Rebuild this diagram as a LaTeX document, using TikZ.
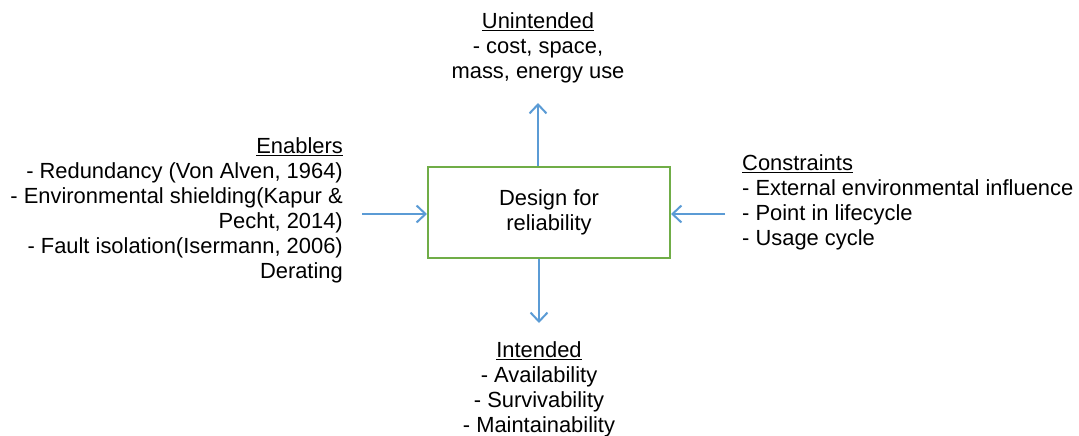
\documentclass[tikz,border=0pt]{standalone}
\usepackage{fontspec}
\setmainfont{Liberation Sans}
\usetikzlibrary{arrows.meta,positioning}
\definecolor{linkblue}{HTML}{5B9BD5}
\definecolor{boxgreen}{HTML}{70AD47}
\tikzset{
    >={Straight Barb[length=9pt,width=17pt]},
    core/.style={rectangle, draw=boxgreen, line width=2pt, align=center, minimum width=242pt, minimum height=91pt},
    textblock/.style={inner sep=0pt},
    link/.style={->, draw=linkblue, line width=2pt}
}

\begin{document}
\begin{tikzpicture}[x=1pt, y=-1pt, font=\fontsize{21.9}{25}\selectfont]
    \useasboundingbox (0,0) rectangle (1079,436);

    \node[core] (dfr) at (549,212.5) {Design for\\reliability};

    \node[textblock, align=right, anchor=east] (enablers) at (343,210.5)
        {\underline{Enablers}\\- Redundancy (Von Alven, 1964)\\- Environmental shielding(Kapur \&\\Pecht, 2014)\\- Fault isolation(Isermann, 2006)\\Derating};
    \node[textblock, align=left, anchor=west] (constraints) at (742,202)
        {\underline{Constraints}\\- External environmental influence\\- Point in lifecycle\\- Usage cycle};
    \node[textblock, align=center] (unintended) at (538,48)
        {\underline{Unintended}\\- cost, space,\\mass, energy use};
    \node[textblock, align=center] (intended) at (539,389)
        {\underline{Intended}\\- Availability\\- Survivability\\- Maintainability};

    \coordinate (inL) at (362,214);
    \coordinate (inR) at (725,214);
    \coordinate (upTip) at (538,103);
    \coordinate (downTip) at (539,323);

    \draw[link] (inL) -- (inL -| dfr.west);
    \draw[link] (inR) -- (inR -| dfr.east);
    \draw[link] (upTip |- dfr.north) -- (upTip);
    \draw[link] (downTip |- dfr.south) -- (downTip);
\end{tikzpicture}
\end{document}
